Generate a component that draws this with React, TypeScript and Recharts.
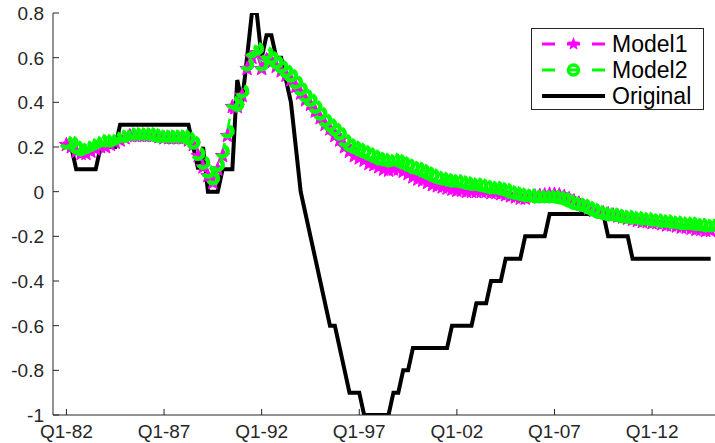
import React from 'react';
import { LineChart, Line, XAxis, YAxis } from 'recharts';

// Quarterly series, index 0 = Q1-82
const original = [
  0.2, 0.2, 0.1, 0.1, 0.1, 0.1, 0.1, 0.2, 0.2, 0.2,
  0.2, 0.3, 0.3, 0.3, 0.3, 0.3, 0.3, 0.3, 0.3, 0.3,
  0.3, 0.3, 0.3, 0.3, 0.3, 0.3, 0.2, 0.1, 0.2, 0,
  0, 0, 0.1, 0.1, 0.1, 0.5, 0.4, 0.6, 0.8, 0.8,
  0.6, 0.7, 0.7, 0.6, 0.6, 0.5, 0.4, 0.2, 0, -0.1,
  -0.2, -0.3, -0.4, -0.5, -0.6, -0.6, -0.7, -0.8, -0.9, -0.9,
  -0.9, -1, -1, -1, -1, -1, -1, -0.9, -0.9, -0.8,
  -0.8, -0.7, -0.7, -0.7, -0.7, -0.7, -0.7, -0.7, -0.7, -0.6,
  -0.6, -0.6, -0.6, -0.6, -0.5, -0.5, -0.5, -0.4, -0.4, -0.4,
  -0.3, -0.3, -0.3, -0.3, -0.2, -0.2, -0.2, -0.2, -0.2, -0.1,
  -0.1, -0.1, -0.1, -0.1, -0.1, -0.1, -0.1, -0.1, -0.1, -0.1,
  -0.1, -0.2, -0.2, -0.2, -0.2, -0.2, -0.3, -0.3, -0.3, -0.3,
  -0.3, -0.3, -0.3, -0.3, -0.3, -0.3, -0.3, -0.3, -0.3, -0.3,
  -0.3, -0.3, -0.3,
];

const model1 = [
  0.21, 0.2, 0.18, 0.17, 0.17, 0.18, 0.19, 0.2, 0.2, 0.21,
  0.22, 0.23, 0.24, 0.25, 0.25, 0.25, 0.25, 0.25, 0.25, 0.245,
  0.24, 0.24, 0.24, 0.24, 0.24, 0.23, 0.21, 0.16, 0.11, 0.07,
  0.04, 0.1, 0.16, 0.25, 0.38, 0.38, 0.43, 0.55, 0.6, 0.62,
  0.55, 0.59, 0.58, 0.56, 0.54, 0.52, 0.5, 0.47, 0.44, 0.41,
  0.39, 0.36, 0.33, 0.3, 0.28, 0.25, 0.23, 0.2, 0.18, 0.16,
  0.15, 0.14, 0.125, 0.12, 0.11, 0.1, 0.095, 0.1, 0.1, 0.09,
  0.08, 0.065, 0.055, 0.05, 0.04, 0.03, 0.025, 0.02, 0.015, 0.01,
  0.005, 0.005, 0, 0, 0, 0, 0, -0.005, -0.005, -0.01,
  -0.015, -0.02, -0.025, -0.03, -0.03, -0.025, -0.02, -0.018, -0.015, -0.012,
  -0.012, -0.015, -0.022, -0.032, -0.042, -0.052, -0.065, -0.075, -0.085, -0.09,
  -0.095, -0.1, -0.105, -0.11, -0.115, -0.12, -0.125, -0.13, -0.135, -0.135,
  -0.14, -0.14, -0.145, -0.15, -0.15, -0.155, -0.16, -0.16, -0.165, -0.17,
  -0.17, -0.175, -0.175,
];

const model2 = [
  0.22, 0.22, 0.2, 0.19, 0.2, 0.21, 0.22, 0.23, 0.23, 0.23,
  0.24, 0.25, 0.25, 0.26, 0.26, 0.26, 0.26, 0.26, 0.255, 0.25,
  0.25, 0.25, 0.25, 0.25, 0.25, 0.24, 0.22, 0.17, 0.13, 0.09,
  0.06, 0.12, 0.18, 0.27, 0.4, 0.39, 0.45, 0.57, 0.63, 0.64,
  0.57, 0.62, 0.6, 0.58, 0.56, 0.54, 0.52, 0.49, 0.46, 0.43,
  0.41, 0.38, 0.35, 0.32, 0.3, 0.28, 0.26, 0.23, 0.21, 0.2,
  0.19, 0.18, 0.17, 0.16, 0.15, 0.145, 0.14, 0.145, 0.14, 0.13,
  0.12, 0.11, 0.105, 0.095, 0.085, 0.075, 0.065, 0.06, 0.055, 0.05,
  0.05, 0.045, 0.04, 0.035, 0.035, 0.03, 0.025, 0.02, 0.02, 0.015,
  0.01, 0, -0.005, -0.01, -0.015, -0.015, -0.02, -0.02, -0.02, -0.02,
  -0.02, -0.025, -0.03, -0.04, -0.05, -0.055, -0.06, -0.07, -0.08, -0.09,
  -0.095, -0.1, -0.1, -0.105, -0.11, -0.11, -0.115, -0.115, -0.12, -0.12,
  -0.125, -0.125, -0.13, -0.13, -0.135, -0.135, -0.14, -0.14, -0.14, -0.145,
  -0.145, -0.15, -0.15,
];

const tickQuarters = [0, 20, 40, 60, 80, 100, 120];
const tickLabels = ['Q1-82', 'Q1-87', 'Q1-92', 'Q1-97', 'Q1-02', 'Q1-07', 'Q1-12'];
const yTicks = [0.8, 0.6, 0.4, 0.2, 0, -0.2, -0.4, -0.6, -0.8, -1];

const AXIS = '#262626';
const MAGENTA = '#ff00ff';
const GREEN = '#00ff00';
const FONT = '"Liberation Sans", Arial, sans-serif';
const X_GAP = 10;
const Y_GAP = 9;
const TICK_LEN = 6;

const data = original.map((v, i) => ({
  q: i,
  original: v,
  model1: model1[i],
  model2: model2[i],
}));

const starPoints = (cx: number, cy: number, outer: number, inner: number) => {
  const pts: string[] = [];
  for (let k = 0; k < 10; k++) {
    const r = k % 2 === 0 ? outer : inner;
    const a = -Math.PI / 2 + (k * Math.PI) / 5;
    pts.push(`${cx + r * Math.cos(a)},${cy + r * Math.sin(a)}`);
  }
  return pts.join(' ');
};

const StarDot = (props: any) => {
  const { cx, cy, index } = props;
  if (cx == null || cy == null) return null;
  return <polygon key={`star-${index}`} points={starPoints(cx, cy, 7.5, 3.2)} fill={MAGENTA} stroke={MAGENTA} strokeWidth={1} />;
};

const BottomTick = (props: any) => {
  const { x, y, payload } = props;
  const label = tickLabels[tickQuarters.indexOf(payload.value)];
  return (
    <g>
      <line x1={x} x2={x} y1={y - X_GAP} y2={y - X_GAP - TICK_LEN} stroke={AXIS} />
      <text x={x} y={y} dy="0.71em" textAnchor="middle" fontSize={19} fontFamily={FONT} fill={AXIS}>
        {label}
      </text>
    </g>
  );
};

const TopTick = (props: any) => {
  const { x, y } = props;
  return <line x1={x} x2={x} y1={y} y2={y + TICK_LEN} stroke={AXIS} />;
};

const LeftTick = (props: any) => {
  const { x, y, payload } = props;
  return (
    <g>
      <line x1={x + Y_GAP} x2={x + Y_GAP + TICK_LEN} y1={y} y2={y} stroke={AXIS} />
      <text x={x} y={y} dy="0.36em" textAnchor="end" fontSize={19} fontFamily={FONT} fill={AXIS}>
        {payload.value}
      </text>
    </g>
  );
};

const legendRows = [
  { name: 'Model1', color: MAGENTA, dash: '13 12', width: 3, marker: 'star' },
  { name: 'Model2', color: GREEN, dash: '13 12', width: 3, marker: 'circle' },
  { name: 'Original', color: '#000', dash: undefined, width: 4, marker: 'none' },
];

const LegendBox = () => (
  <div
    style={{
      position: 'absolute',
      left: 531,
      top: 28,
      width: 173,
      height: 82,
      border: '1px solid #262626',
      background: '#fff',
      boxSizing: 'border-box',
    }}
  >
    <svg width={171} height={80}>
      {legendRows.map((row, k) => {
        const cy = 15 + k * 26;
        return (
          <g key={row.name}>
            <line x1={10} x2={73} y1={cy} y2={cy} stroke={row.color} strokeWidth={row.width} strokeDasharray={row.dash} />
            {row.marker === 'star' && <polygon points={starPoints(41.5, cy, 7, 3)} fill={row.color} />}
            {row.marker === 'circle' && <circle cx={41.5} cy={cy} r={5} fill="none" stroke={row.color} strokeWidth={3.5} />}
            <text x={80} y={cy} dy="0.36em" fontSize={23} fontFamily={FONT} fill="#000">
              {row.name}
            </text>
          </g>
        );
      })}
    </svg>
  </div>
);

export default function App() {
  return (
    <div style={{ position: 'absolute', left: 0, top: 0, width: 715, height: 443, overflow: 'hidden', background: '#fff' }}>
      <LineChart width={717} height={443} data={data} margin={{ top: 13, right: 0, bottom: 0, left: 0 }}>
        <XAxis
          dataKey="q"
          type="number"
          domain={[-2.75, 133.3]}
          allowDataOverflow
          ticks={tickQuarters}
          interval={0}
          height={28}
          tickSize={0}
          tickMargin={X_GAP}
          tick={<BottomTick />}
          axisLine={{ stroke: AXIS }}
        />
        <XAxis
          xAxisId="top"
          orientation="top"
          dataKey="q"
          type="number"
          domain={[-2.75, 133.3]}
          allowDataOverflow
          ticks={tickQuarters}
          interval={0}
          height={0}
          tickSize={0}
          tickMargin={0}
          tick={<TopTick />}
          axisLine={{ stroke: AXIS }}
        />
        <YAxis
          type="number"
          domain={[-1, 0.8]}
          allowDataOverflow
          ticks={yTicks}
          interval={0}
          width={53}
          tickSize={0}
          tickMargin={Y_GAP}
          tick={<LeftTick />}
          axisLine={{ stroke: AXIS }}
        />
        <Line
          dataKey="model1"
          type="linear"
          stroke={MAGENTA}
          strokeWidth={2.5}
          strokeDasharray="13 12"
          dot={<StarDot />}
          isAnimationActive={false}
        />
        <Line
          dataKey="model2"
          type="linear"
          stroke={GREEN}
          strokeWidth={2.5}
          strokeDasharray="13 12"
          dot={{ r: 5, stroke: GREEN, strokeWidth: 4.5, fill: 'none' }}
          isAnimationActive={false}
        />
        <Line dataKey="original" type="linear" stroke="#000" strokeWidth={4} dot={false} isAnimationActive={false} />
      </LineChart>
      <LegendBox />
    </div>
  );
}
